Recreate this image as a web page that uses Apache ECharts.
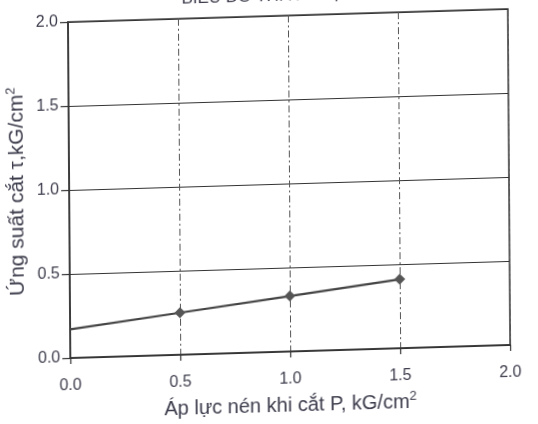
<!DOCTYPE html>
<html>
<head>
<meta charset="utf-8">
<script src="https://cdn.jsdelivr.net/npm/echarts@6/dist/echarts.min.js"></script>
<style>
  html, body { margin: 0; padding: 0; background: #ffffff; }
  #chart {
    width: 538px; height: 424px;
    /* the printed sheet sits slightly askew */
    transform-origin: 68px 22px;
    transform: skew(0.4deg, -1.7deg);
  }
</style>
</head>
<body>
<div id="chart"></div>
<script>
// Normal pressure P (kG/cm2) and shear stress tau (kG/cm2)
const pressure = [0.0, 0.5, 1.0, 1.5];
const shearStress = [0.17, 0.25, 0.33, 0.41];
// points that carry a marker (the intercept at P = 0 does not)
const hasMarker = [false, true, true, true];

const xTicks = [0.0, 0.5, 1.0, 1.5, 2.0];
const yTicks = [0.0, 0.5, 1.0, 1.5, 2.0];

const titleText = 'BIỂU ĐỒ THÍ NGHIỆM';
const xName = 'Áp lực nén khi cắt P, kG/cm';
const yName = 'Ứng suất cắt τ,kG/cm';

const textColor = '#3c3c4c';
const font = 'Liberation Sans, Arial, sans-serif';

const chart = echarts.init(document.getElementById('chart'), null, { renderer: 'canvas' });

const seriesData = pressure.map((p, i) => ({
  value: [p, shearStress[i]],
  symbol: hasMarker[i] ? 'diamond' : 'none'
}));

const supStyle = {
  fontSize: 13, verticalAlign: 'top', padding: [0, 0, 12, 0],
  color: textColor, fontFamily: font
};

chart.setOption({
  backgroundColor: '#ffffff',
  animation: false,
  title: {
    text: titleText,
    left: 'center',
    top: -11,
    textStyle: { color: textColor, fontFamily: font, fontSize: 17, fontWeight: 'normal' }
  },
  grid: {
    left: 68, right: 30, top: 22, bottom: 66,
    containLabel: false,
    outerBoundsMode: 'none',
    show: true,
    borderColor: '#333333',
    borderWidth: 1.5,
    backgroundColor: 'transparent'
  },
  xAxis: {
    type: 'value',
    min: xTicks[0],
    max: xTicks[xTicks.length - 1],
    interval: 0.5,
    name: xName + '{sup|2}',
    nameLocation: 'middle',
    nameGap: 42,
    nameMoveOverlap: false,
    nameTextStyle: {
      color: textColor, fontFamily: font, fontSize: 20,
      rich: { sup: supStyle }
    },
    axisLine: { show: true, lineStyle: { color: '#333333', width: 1.5 } },
    axisTick: { show: true, inside: false, length: 6, lineStyle: { color: '#333333', width: 1.2 } },
    axisLabel: {
      color: textColor, fontFamily: font, fontSize: 16, margin: 20,
      formatter: v => v.toFixed(1)
    },
    splitLine: { show: true, lineStyle: { color: '#555555', width: 1, type: [7, 3, 2, 3] } }
  },
  yAxis: {
    type: 'value',
    min: yTicks[0],
    max: yTicks[yTicks.length - 1],
    interval: 0.5,
    name: yName + '{sup|2}',
    nameLocation: 'middle',
    nameGap: 39,
    nameMoveOverlap: false,
    nameRotate: 90,
    nameTextStyle: {
      color: textColor, fontFamily: font, fontSize: 21,
      rich: { sup: supStyle }
    },
    axisLine: { show: true, lineStyle: { color: '#333333', width: 1.5 } },
    axisTick: { show: true, inside: false, length: 8, lineStyle: { color: '#333333', width: 1.2 } },
    axisLabel: {
      color: textColor, fontFamily: font, fontSize: 16, margin: 10,
      formatter: v => v.toFixed(1)
    },
    splitLine: { show: true, lineStyle: { color: '#333333', width: 1.2 } }
  },
  series: [{
    type: 'line',
    data: seriesData,
    symbolSize: 11,
    showAllSymbol: true,
    lineStyle: { color: '#444444', width: 2.2 },
    itemStyle: { color: '#555555' },
    z: 5
  }]
});
</script>
</body>
</html>
